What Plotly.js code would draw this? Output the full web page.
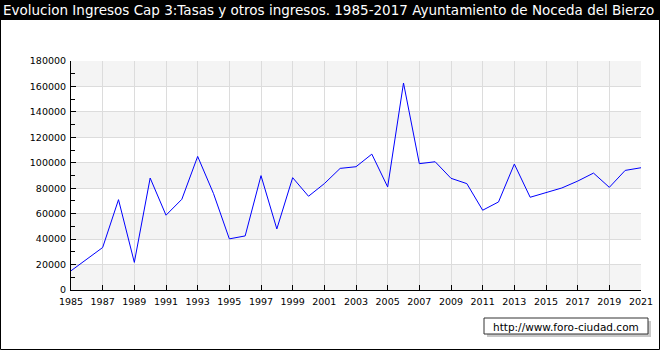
<!DOCTYPE html>
<html>
<head>
<meta charset="utf-8">
<script src="https://cdn.plot.ly/plotly-3.0.1.min.js"></script>
<style>html,body{margin:0;padding:0;background:#fff;}#chart{width:660px;height:350px;}</style>
</head>
<body>
<div id="chart"></div>
<script>
const years = [1985,1986,1987,1988,1989,1990,1991,1992,1993,1994,1995,1996,1997,1998,1999,2000,2001,2002,2003,2004,2005,2006,2007,2008,2009,2010,2011,2012,2013,2014,2015,2016,2017,2018,2019,2020,2021];
const ingresos = [15100,24000,33400,71000,21700,88000,58800,71300,105000,75800,40200,42500,89900,48000,88300,73700,83600,95600,96900,106800,81000,162700,99300,100800,87800,83600,62700,69200,99000,72900,76500,80200,85600,91900,80700,94000,96100];
const yTicks = [0,20000,40000,60000,80000,100000,120000,140000,160000,180000];
const xTickYears = [1985,1987,1989,1991,1993,1995,1997,1999,2001,2003,2005,2007,2009,2011,2013,2015,2017,2019,2021];
const titleText = 'Evolucion Ingresos Cap 3:Tasas y otros ingresos. 1985-2017 Ayuntamiento de Noceda del Bierzo';
const sourceText = 'http://www.foro-ciudad.com';

const W = 660, H = 350, L = 71, R = 19, T = 61, B = 60;
const pw = W - L - R, ph = H - T - B;
const px = x => (x - L) / pw;          // pixel x -> paper
const py = y => (H - B - y) / ph;      // pixel y (from top) -> paper

const shapes = [];
// alternating bands
for (let i = 0; i < yTicks.length - 1; i += 2) {
  shapes.push({type:'rect', xref:'paper', yref:'y', x0:0, x1:1, y0:yTicks[i], y1:yTicks[i+1],
    fillcolor:'#f4f4f4', line:{width:0}, layer:'below'});
}
// title bar
shapes.push({type:'rect', xref:'paper', yref:'paper', x0:px(0), x1:px(660), y0:py(20), y1:py(0),
  fillcolor:'#000000', line:{width:0}, layer:'below'});
// outer border
shapes.push({type:'rect', xref:'paper', yref:'paper', x0:px(0.5), x1:px(659.5), y0:py(349.5), y1:py(0.5),
  fillcolor:'rgba(0,0,0,0)', line:{color:'#000', width:1}});
// watermark shadow
shapes.push({type:'rect', xref:'paper', yref:'paper', x0:px(487), x1:px(651), y0:py(337), y1:py(321),
  fillcolor:'#c8c8c8', line:{width:0}});
// watermark box
shapes.push({type:'rect', xref:'paper', yref:'paper', x0:px(484), x1:px(648), y0:py(334), y1:py(318),
  fillcolor:'#ffffff', line:{color:'#333333', width:1}});

const data = [{
  x: years, y: ingresos, type:'scatter', mode:'lines',
  line:{color:'#0000ff', width:1}, hoverinfo:'x+y'
}];

const layout = {
  width: W, height: H,
  margin:{l:L, r:R, t:T, b:B, pad:0},
  paper_bgcolor:'#ffffff', plot_bgcolor:'rgba(0,0,0,0)',
  font:{family:'DejaVu Sans, Verdana, sans-serif', size:9, color:'#000'},
  title:{text:titleText, font:{family:'DejaVu Sans, Verdana, sans-serif', size:13.5, color:'#ffffff'},
    xref:'container', yref:'container', x:3/660, xanchor:'left', y:1-10.5/350, yanchor:'middle'},
  showlegend:false,
  xaxis:{range:[1985,2021], tickvals:xTickYears, ticktext:xTickYears.map(String),
    showgrid:true, gridcolor:'#dcdcdc', gridwidth:1, zeroline:false,
    showline:true, linecolor:'#000', linewidth:1,
    ticks:'inside', ticklen:5, tickcolor:'#000', tickfont:{size:9.5},
    ticklabelstandoff:3, fixedrange:true},
  yaxis:{range:[0,180000], tickvals:yTicks, ticktext:yTicks.map(String),
    showgrid:true, gridcolor:'#dcdcdc', gridwidth:1, zeroline:false,
    showline:true, linecolor:'#000', linewidth:1,
    ticks:'inside', ticklen:5, tickcolor:'#000', tickfont:{size:9.5},
    ticklabelstandoff:2,
    minor:{dtick:10000, tick0:0, ticks:'inside', ticklen:4, tickcolor:'#000', showgrid:false},
    fixedrange:true},
  shapes: shapes,
  annotations:[{text:sourceText, xref:'paper', yref:'paper', x:px(566), y:py(326.5),
    xanchor:'center', yanchor:'middle', showarrow:false,
    font:{family:'DejaVu Sans, Verdana, sans-serif', size:10.5, color:'#000'}}]
};

Plotly.newPlot('chart', data, layout, {displayModeBar:false, staticPlot:true});
</script>
</body>
</html>
